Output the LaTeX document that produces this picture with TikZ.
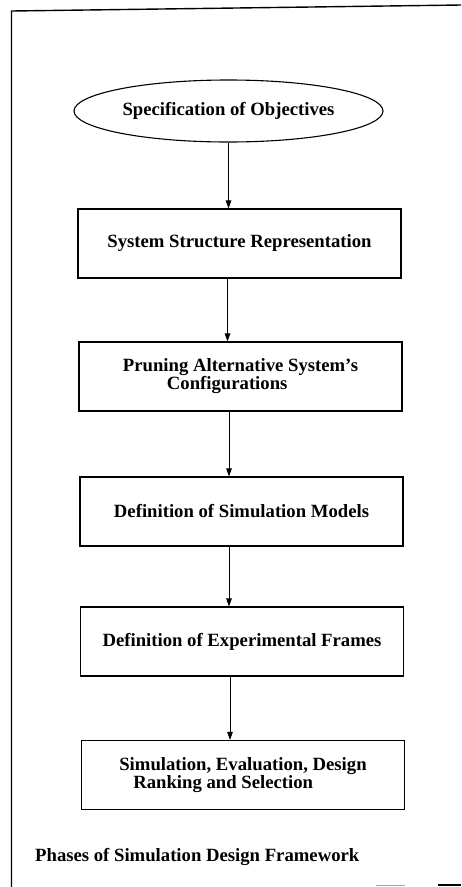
\documentclass[tikz,border=0pt]{standalone}
\usepackage{fontspec}
\setmainfont{Liberation Serif}
\usetikzlibrary{shapes.geometric,arrows.meta,calc}
\begin{document}
\begin{tikzpicture}[x=1pt,y=-1pt,
  phase/.style={draw,line width=1.1pt,minimum width=323pt,minimum height=69pt,
    inner sep=0pt,font=\fontsize{18.7}{18}\selectfont\bfseries,align=left},
  goal/.style={draw,ellipse,line width=1.1pt,minimum width=309pt,minimum height=62pt,
    inner sep=0pt,font=\fontsize{18.7}{18}\selectfont\bfseries},
  flow/.style={line width=0.9pt,-{Triangle[length=8pt,width=5.5pt]}},
  frameline/.style={line width=1.4pt}]
\useasboundingbox (0,0) rectangle (461,887);
\fill[white] (0,0) rectangle (461,887);

% page frame
\draw[frameline] (11.5,887) -- (11.5,11) -- (461,5);
\draw[line width=1pt,black!35] (376,885) -- (405,885);
\draw[line width=1.2pt] (438,885) -- (461,885);

% phases
\node[goal] (obj) at (228.5,111) {Specification of Objectives};
\node[phase] (ssr) at (239.5,243.5) {System Structure Representation};
\node[phase] (prune) at (240.5,376.5) {Pruning Alternative System's\\\hspace*{44pt}Configurations};
\node[phase] (models) at (241.5,511.5) {Definition of Simulation Models};
\node[phase] (frames) at (242,641.5) {Definition of Experimental Frames};
\node[phase] (sel) at (243,775) {Simulation, Evaluation, Design\\\hspace*{14pt}Ranking and Selection};

% caption
\node[anchor=west,inner sep=0pt,font=\fontsize{18.7}{18}\selectfont\bfseries] (cap) at (35,857)
  {Phases of Simulation Design Framework};

% connectors
\draw[flow] (obj.south) -- (obj.south |- ssr.north);
\draw[flow] ([xshift=-12pt]ssr.south) -- ([xshift=-12pt]ssr.south |- prune.north);
\draw[flow] ([xshift=-11.5pt]prune.south) -- ([xshift=-11.5pt]prune.south |- models.north);
\draw[flow] ([xshift=-12.5pt]models.south) -- ([xshift=-12.5pt]models.south |- frames.north);
\draw[flow] ([xshift=-12pt]frames.south) -- ([xshift=-12pt]frames.south |- sel.north);
\end{tikzpicture}
\end{document}
